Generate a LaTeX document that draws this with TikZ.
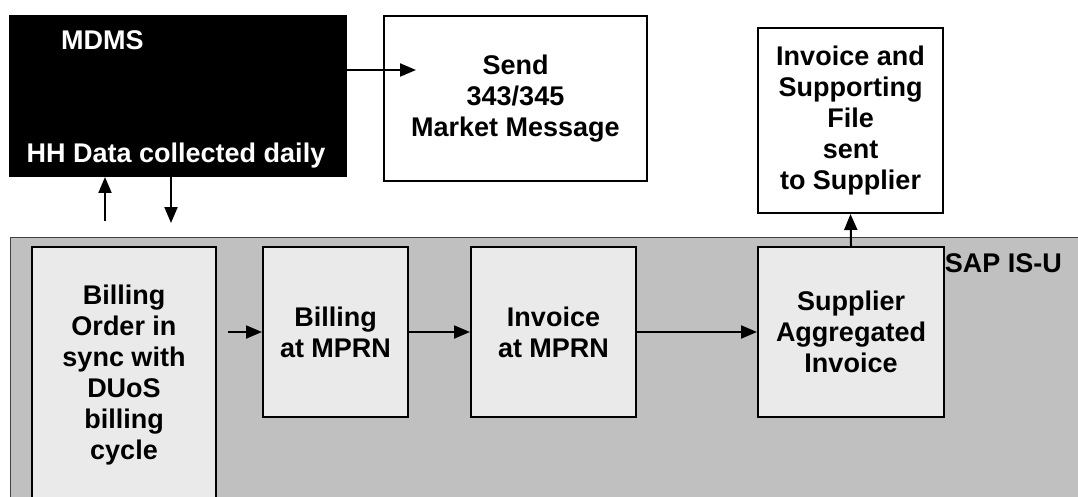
\documentclass[tikz,border=0pt]{standalone}
\usepackage{fontspec}
\setmainfont{Liberation Sans}
\usetikzlibrary{arrows.meta}
\definecolor{sapgray}{HTML}{C0C0C0}
\definecolor{stepgray}{HTML}{EAEAEA}
\begin{document}
\begin{tikzpicture}[x=1pt,y=-1pt,
  every node/.style={font=\fontsize{27}{31}\selectfont\bfseries,align=center,inner sep=0pt},
  box/.style={draw,line width=2pt},
  stepbox/.style={box,fill=stepgray},
  arr/.style={line width=2pt,-{Triangle[length=16pt,width=13pt]}}]
\useasboundingbox (0,0) rectangle (1078,497);
\clip (0,0) rectangle (1078,497);

\filldraw[fill=sapgray,draw=black!75,line width=1pt] (10,237) rectangle (1100,530);
\node[anchor=base east] (sap) at (1062,272) {SAP IS-U};

\node[box,fill=black,minimum width=336pt,minimum height=160pt] (mdms) at (178,96) {};
\node[white,anchor=base west] (mdmsname) at (61,50) {MDMS};
\node[white,anchor=base] (mdmsdata) at (176,163) {HH Data collected daily};
\node[box,fill=white,minimum width=263pt,minimum height=165pt] (send) at (515.5,98.5) {Send\\343/345\\Market Message};
\node[box,fill=white,minimum width=185pt,minimum height=185pt] (sent) at (850.5,120.5) {Invoice and\\Supporting\\File\\sent\\to Supplier};

\node[stepbox,minimum width=184pt,minimum height=256pt] (order) at (124,375) {Billing\\Order in\\sync with\\DUoS\\billing\\cycle};
\node[stepbox,minimum width=145pt,minimum height=170pt] (billing) at (335.5,332) {Billing\\at MPRN};
\node[stepbox,minimum width=165pt,minimum height=170pt] (invoice) at (553.5,332) {Invoice\\at MPRN};
\node[stepbox,minimum width=186pt,minimum height=170pt] (aggr) at (851,332) {Supplier\\Aggregated\\Invoice};

\coordinate (sendtip) at (416,70);
\draw[arr] (mdms.east |- sendtip) -- (sendtip);
\coordinate (upfoot) at (105,221);
\draw[arr] (upfoot) -- (upfoot |- mdms.south);
\coordinate (downtip) at (171,223);
\draw[arr] (downtip |- mdms.south) -- (downtip);

\coordinate (orderout) at (228,332);
\draw[arr] (orderout) -- (billing.west);
\draw[arr] (billing.east) -- (invoice.west);
\draw[arr] (invoice.east) -- (aggr.west);
\draw[arr] (aggr.north) -- (sent.south);

\end{tikzpicture}
\end{document}
